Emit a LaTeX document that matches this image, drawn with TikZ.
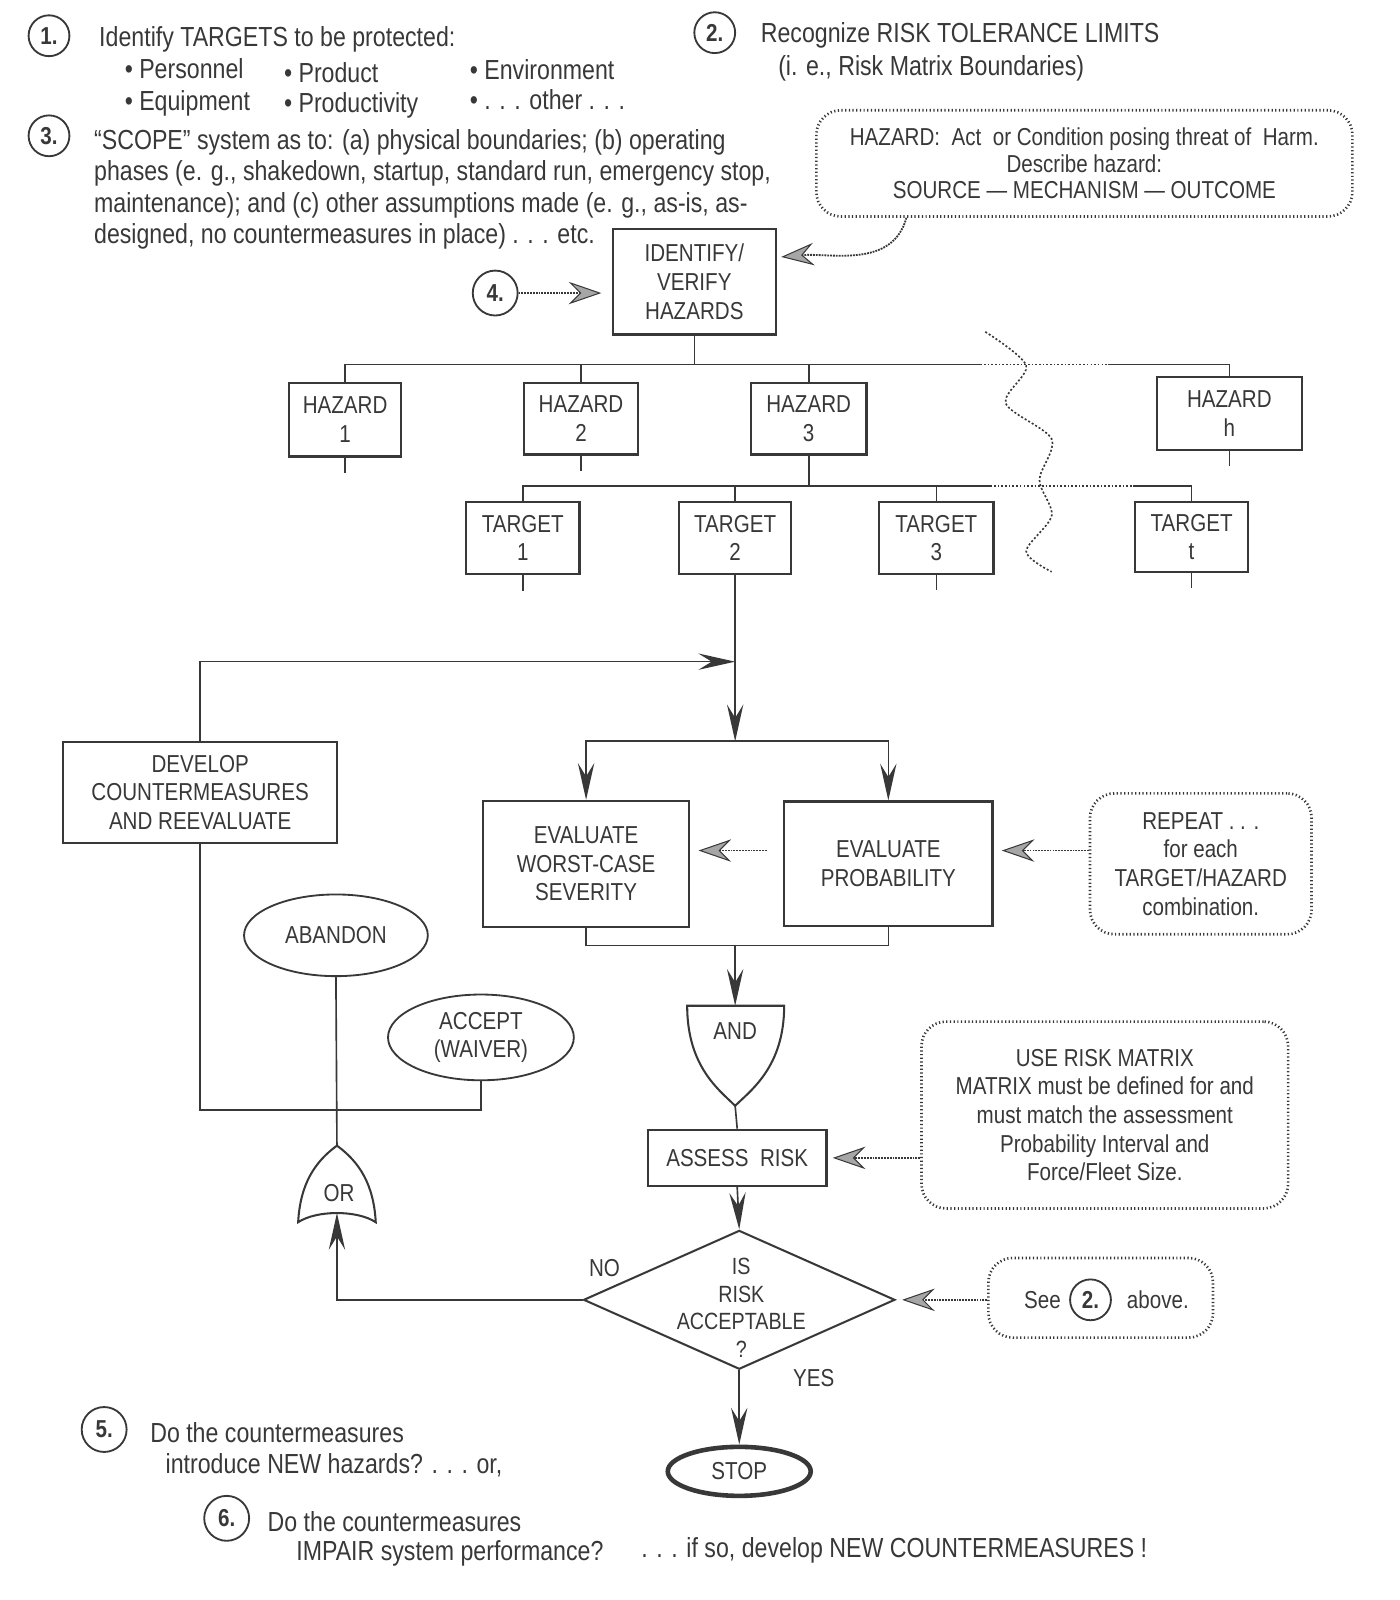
\documentclass[tikz,border=0pt]{standalone}
\usepackage{fontspec}
\setmainfont{Liberation Sans}[FakeStretch=0.84]
\usepackage{tikz}
\usetikzlibrary{arrows.meta,shapes.geometric,positioning}
\definecolor{ink}{gray}{0.22}
\tikzstyle{hbox}=[draw,rectangle,align=center,line width=2.2pt,inner sep=4pt]
\tikzstyle{remark}=[draw,rectangle,rounded corners=24pt,align=center,line width=2.6pt,dash pattern=on 1.2pt off 2.4pt]
\tikzstyle{endpt}=[draw,ellipse,align=center,line width=1.8pt,inner sep=0pt]
\tikzstyle{num}=[draw,circle,line width=1.8pt,minimum size=40pt,inner sep=0pt,font=\bfseries\fontsize{24}{24}\selectfont]
\tikzstyle{txt}=[anchor=base west,inner sep=0pt,font=\fontsize{27}{31}\selectfont]
\tikzstyle{wire}=[draw,line width=1.6pt]
\tikzstyle{flow}=[draw,line width=1.6pt,-{Stealth[length=36pt,width=16pt,inset=13pt]}]
\tikzstyle{feed}=[draw,line width=1.8pt,densely dotted,-{Stealth[length=32pt,width=22pt,inset=11pt,fill=gray!70,line width=1pt]}]

\begin{document}
\begin{tikzpicture}[x=1pt,y=-1pt,color=ink,font=\fontsize{24}{28}\selectfont]
\useasboundingbox (0,0) rectangle (1371,1567);

% % % notes 1-3
	\node[num] (n1) at (48,35) {1.};
	\node[txt] (t1) at (97,46) {Identify TARGETS to be protected:};
	\node[txt] (b1) at (122,77) {• Personnel};
	\node[txt] (b2) at (278,81) {• Product};
	\node[txt] (b3) at (460,78) {• Environment};
	\node[txt] (b4) at (122,108) {• Equipment};
	\node[txt] (b5) at (278,110) {• Productivity};
	\node[txt] (b6) at (460,107) {• . . . other . . .};

	\node[num] (n2) at (700,32) {2.};
	\node[txt] (t2a) at (745,42) {Recognize RISK TOLERANCE LIMITS};
	\node[txt] (t2b) at (762,74) {(i. e., Risk Matrix Boundaries)};

	\node[num] (n3) at (48,133) {3.};
	\node[txt] (t3a) at (92,146) {“SCOPE” system as to: (a) physical boundaries; (b) operating};
	\node[txt] (t3b) at (92,177) {phases (e. g., shakedown, startup, standard run, emergency stop,};
	\node[txt] (t3c) at (92,208) {maintenance); and (c) other assumptions made (e. g., as-is, as-};
	\node[txt] (t3d) at (92,238) {designed, no countermeasures in place) . . . etc.};

% % % identify
	\node[remark,minimum width=525pt,minimum height=104pt,font=\fontsize{24}{26}\selectfont] (hzd) at (1062,160)
	{HAZARD:\ \ Act\ \ or Condition posing threat of\ \ Harm.\\Describe hazard:\\SOURCE --- MECHANISM --- OUTCOME};
	\node[hbox,minimum width=160pt,minimum height=103pt] (idv) at (680,276) {IDENTIFY/\\VERIFY\\HAZARDS};
	\node[num,minimum size=44pt] (n4) at (485,287) {4.};

	\path[feed,shorten >=10pt] (n4) -- (idv.west |- n4);
	\path[feed,shorten >=4pt] (hzd.197) to[out=-105,in=5] ([yshift=24pt]idv.east);

% % % hazards
	\node[hbox,minimum width=110pt,minimum height=72pt] (hz1) at (338,411) {HAZARD\\1};
	\node[hbox,minimum width=112pt,minimum height=70pt] (hz2) at (569,410) {HAZARD\\2};
	\node[hbox,minimum width=113pt,minimum height=70pt] (hz3) at (792,410) {HAZARD\\3};
	\node[hbox,minimum width=142pt,minimum height=71pt] (hzh) at (1204,405) {HAZARD\\h};

	\coordinate (bus1) at (680,357);
	\coordinate (gap1a) at (960,357);
	\coordinate (gap1b) at (1085,357);
	\path[wire] (idv.south) -- (bus1);
	\path[wire] (bus1) -| (hz1.north);
	\path[wire] (bus1) -| (hz2.north);
	\path[wire] (bus1) -| (hz3.north);
	\path[wire] (bus1) -- (gap1a);
	\path[wire,dotted] (gap1a) -- (gap1b);
	\path[wire] (gap1b) -| (hzh.north);
	\foreach \n in {hz1,hz2,hzh}
		\path[wire] (\n.south) -- ++(0,15);

% % % targets
	\node[hbox,minimum width=111pt,minimum height=71pt] (tg1) at (512,527) {TARGET\\1};
	\node[hbox,minimum width=110pt,minimum height=70pt] (tg2) at (720,527) {TARGET\\2};
	\node[hbox,minimum width=112pt,minimum height=70pt] (tg3) at (917,527) {TARGET\\3};
	\node[hbox,minimum width=111pt,minimum height=68pt] (tgt) at (1167,526) {TARGET\\t};

	\coordinate (bus2) at (792,476);
	\coordinate (gap2a) at (970,476);
	\coordinate (gap2b) at (1110,476);
	\path[wire] (hz3.south) -- (bus2);
	\path[wire] (bus2) -| (tg1.north);
	\path[wire] (bus2) -| (tg2.north);
	\path[wire] (bus2) -| (tg3.north);
	\path[wire] (bus2) -- (gap2a);
	\path[wire,dotted] (gap2a) -- (gap2b);
	\path[wire] (gap2b) -| (tgt.north);
	\foreach \n in {tg1,tg3,tgt}
		\path[wire] (\n.south) -- ++(0,15);

	\draw[line width=1.6pt,dash pattern=on 2pt off 2pt] plot[smooth,tension=0.5] coordinates
	{(965,325) (1005,358) (985,395) (1030,430) (1018,470) (1030,505) (1005,540) (1030,560)};

% % % evaluate
	\node[hbox,minimum width=268pt,minimum height=99pt] (dev) at (196,776) {DEVELOP\\COUNTERMEASURES\\AND REEVALUATE};
	\node[hbox,minimum width=202pt,minimum height=123pt] (ews) at (574,846) {EVALUATE\\WORST-CASE\\SEVERITY};
	\node[hbox,minimum width=204pt,minimum height=122pt] (ep) at (870,846) {EVALUATE\\PROBABILITY};
	\node[remark,minimum width=217pt,minimum height=138pt] (rep) at (1176,846) {REPEAT . . .\\for each\\TARGET/HAZARD\\combination.};

	\coordinate (ret) at (720,648);
	\coordinate (split) at (720,726);
	\coordinate (merge) at (720,926);
	\path[flow] (tg2.south) -- (split);
	\path[flow] (dev.north) |- (ret);
	\path[flow] (split) -| (ews.north);
	\path[flow] (split) -| (ep.north);
	\path[feed,shorten <=16pt,shorten >=8pt] ([yshift=13pt]ep.west) -- ([yshift=13pt]ews.east);
	\path[feed,shorten >=8pt] ([yshift=13pt]rep.west) -- ([yshift=13pt]ep.east);
	\path[wire] (ews.south) |- (merge) -| (ep.south);

% % % and / assess
	\coordinate (andtop) at (720,985);
	\coordinate (andbot) at (720,1083);
	\path[draw,line width=2pt] (673,985) -- (768,985) .. controls (768,1045) and (735,1068) .. (andbot)
		.. controls (705,1068) and (673,1045) .. (673,985) -- cycle;
	\node (andg) at (720,1010) {AND};
	\path[flow] (merge) -- (andtop);

	\node[hbox,minimum width=175pt,minimum height=55pt] (asr) at (722,1134) {ASSESS\ \ RISK};
	\node[remark,minimum width=359pt,minimum height=183pt] (mtx) at (1082,1092)
	{USE RISK MATRIX\\MATRIX must be defined for and\\must match the assessment\\Probability Interval and\\Force/Fleet Size.};
	\path[wire] (andbot) -- (asr.north);
	\path[feed,shorten >=5pt] (mtx.west |- asr.east) -- (asr.east);

% % % decision
	\node[diamond,draw,line width=2pt,aspect=2.25,minimum width=305pt,minimum height=136pt,inner sep=0pt] (dia) at (724,1273) {};
	\node[align=center,font=\fontsize{23}{27}\selectfont] (diat) at (726,1281) {IS\\RISK\\ACCEPTABLE\\?};
	\node (no) at (592,1242) {NO};
	\node (yes) at (797,1350) {YES};
	\node[endpt,line width=4.5pt,minimum width=140pt,minimum height=48pt] (stop) at (724,1441) {STOP};
	\path[flow] (asr.south) -- (dia.north);
	\path[flow] (dia.south) -- (stop.north);

	\node[remark,minimum width=220pt,minimum height=78pt] (see) at (1078,1271) {};
	\node (seet) at (1021,1273) {See};
	\node[num] (n2b) at (1068,1273) {2.};
	\node (abv) at (1134,1273) {above.};
	\path[feed,shorten >=6pt] (see.west |- dia.east) -- (dia.east);

% % % or / abandon / accept
	\coordinate (ortop) at (330,1122);
	\coordinate (orbot) at (330,1188);
	\path[draw,line width=2pt] (292,1197) .. controls (310,1185) and (350,1185) .. (368,1197)
		.. controls (366,1160) and (352,1138) .. (ortop) .. controls (308,1138) and (294,1160) .. (292,1197) -- cycle;
	\node (org) at (332,1168) {OR};
	\node[endpt,minimum width=180pt,minimum height=80pt] (abd) at (329,916) {ABANDON};
	\node[endpt,minimum width=182pt,minimum height=84pt] (acc) at (471,1016) {ACCEPT\\(WAIVER)};

	\path[flow] (dia.west) -| (orbot);
	\path[wire] (ortop) -- (abd.south);
	\path[wire] (acc.south) -- ++(0,28) -| (dev.south);

% % % notes 5-6
	\node[num,minimum size=44pt] (n5) at (102,1400) {5.};
	\node[txt] (t5a) at (147,1413) {Do the countermeasures};
	\node[txt] (t5b) at (162,1443) {introduce NEW hazards? . . . or,};
	\node[num,minimum size=44pt] (n6) at (222,1487) {6.};
	\node[txt] (t6a) at (262,1500) {Do the countermeasures};
	\node[txt] (t6b) at (290,1528) {IMPAIR system performance?};
	\node[txt] (t6c) at (628,1525) {. . . if so, develop NEW COUNTERMEASURES !};
\end{tikzpicture}
\end{document}
